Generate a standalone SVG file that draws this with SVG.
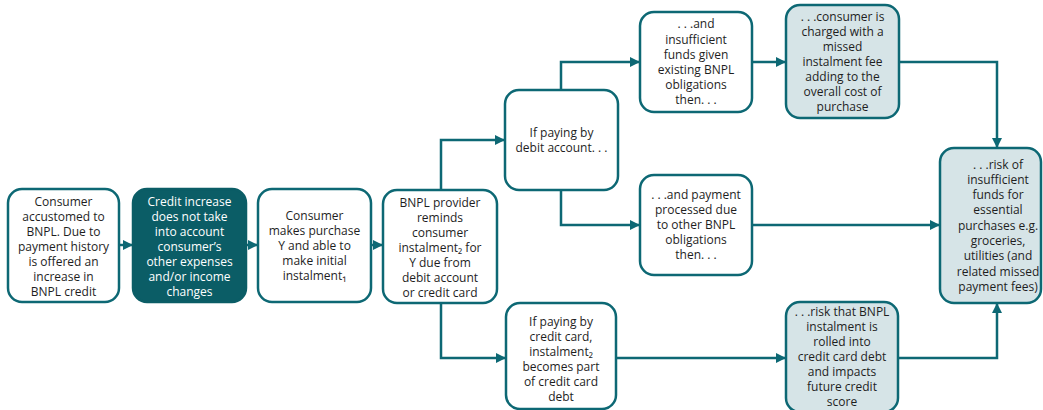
<svg xmlns="http://www.w3.org/2000/svg" width="1043" height="410" viewBox="0 0 1043 410">
  <style>
    .box { fill: #ffffff; stroke: #0d6874; stroke-width: 2.5; }
    .dark { fill: #0b5d66; stroke: #0b5d66; stroke-width: 2.5; }
    .light { fill: #d6e4e7; stroke: #0d6874; stroke-width: 2.5; }
    text { font-family: "Open Sans", "Noto Sans", sans-serif; font-size: 12px; fill: #1e1e1e; text-anchor: middle; }
    .inv { fill: #ffffff; }
    .link { fill: none; stroke: #0d6874; stroke-width: 2.5; }
  </style>
  <defs>
    <marker id="arrow" viewBox="0 0 10 10" refX="9" refY="5" markerWidth="4" markerHeight="4" orient="auto" markerUnits="strokeWidth">
      <path d="M0,0 L10,5 L0,10 z" fill="#0d6874"/>
    </marker>
  </defs>

  <rect width="1043" height="410" fill="#ffffff"/>

  <!-- connectors -->
  <g id="connectors">
    <path class="link" d="M119,245 H132" marker-end="url(#arrow)"/>
    <path class="link" d="M246,245 H257" marker-end="url(#arrow)"/>
    <path class="link" d="M371,245 H382" marker-end="url(#arrow)"/>
    <path class="link" d="M441,190 V140 H504" marker-end="url(#arrow)"/>
    <path class="link" d="M441,303 V358 H505" marker-end="url(#arrow)"/>
    <path class="link" d="M561,90 V62 H639" marker-end="url(#arrow)"/>
    <path class="link" d="M561,190 V225 H639" marker-end="url(#arrow)"/>
    <path class="link" d="M752,62 H785" marker-end="url(#arrow)"/>
    <path class="link" d="M899,62 H997 V147" marker-end="url(#arrow)"/>
    <path class="link" d="M752,225 H939" marker-end="url(#arrow)"/>
    <path class="link" d="M616,358 H785" marker-end="url(#arrow)"/>
    <path class="link" d="M898,358 H997 V304" marker-end="url(#arrow)"/>
  </g>

  <g id="n1">
    <rect class="box" x="8" y="189" width="111" height="113" rx="14"/>
    <text x="63.5" y="206">Consumer</text>
    <text x="63.5" y="221">accustomed to</text>
    <text x="63.5" y="236">BNPL. Due to</text>
    <text x="63.5" y="251">payment history</text>
    <text x="63.5" y="266">is offered an</text>
    <text x="63.5" y="281">increase in</text>
    <text x="63.5" y="296">BNPL credit</text>
  </g>

  <g id="n2">
    <rect class="dark" x="133" y="189" width="113" height="113" rx="14"/>
    <text class="inv" x="189.5" y="206">Credit increase</text>
    <text class="inv" x="189.5" y="221">does not take</text>
    <text class="inv" x="189.5" y="236">into account</text>
    <text class="inv" x="189.5" y="251">consumer’s</text>
    <text class="inv" x="189.5" y="266">other expenses</text>
    <text class="inv" x="189.5" y="281">and/or income</text>
    <text class="inv" x="189.5" y="296">changes</text>
  </g>

  <g id="n3">
    <rect class="box" x="258" y="189" width="113" height="113" rx="14"/>
    <text x="314.5" y="220">Consumer</text>
    <text x="314.5" y="235">makes purchase</text>
    <text x="314.5" y="250">Y and able to</text>
    <text x="314.5" y="265">make initial</text>
    <text x="314.5" y="280">instalment₁</text>
  </g>

  <g id="n4">
    <rect class="box" x="383" y="190" width="114" height="113" rx="14"/>
    <text x="440" y="207">BNPL provider</text>
    <text x="440" y="222">reminds</text>
    <text x="440" y="237">consumer</text>
    <text x="440" y="252">instalment₂ for</text>
    <text x="440" y="267">Y due from</text>
    <text x="440" y="282">debit account</text>
    <text x="440" y="297">or credit card</text>
  </g>

  <g id="n5">
    <rect class="box" x="505" y="90" width="113" height="100" rx="14"/>
    <text x="561.5" y="137">If paying by</text>
    <text x="561.5" y="152">debit account. . .</text>
  </g>

  <g id="n6">
    <rect class="box" x="640" y="12" width="112" height="100" rx="14"/>
    <text x="696" y="28">. . .and</text>
    <text x="696" y="44">insufficient</text>
    <text x="696" y="59">funds given</text>
    <text x="696" y="74">existing BNPL</text>
    <text x="696" y="89">obligations</text>
    <text x="696" y="104">then. . .</text>
  </g>

  <g id="n7">
    <rect class="light" x="786" y="5" width="113" height="113" rx="14"/>
    <text x="842.5" y="21">. . .consumer is</text>
    <text x="842.5" y="36">charged with a</text>
    <text x="842.5" y="51">missed</text>
    <text x="842.5" y="66">instalment fee</text>
    <text x="842.5" y="81">adding to the</text>
    <text x="842.5" y="96">overall cost of</text>
    <text x="842.5" y="111">purchase</text>
  </g>

  <g id="n8">
    <rect class="box" x="640" y="175" width="112" height="100" rx="14"/>
    <text x="696" y="199">. . .and payment</text>
    <text x="696" y="214">processed due</text>
    <text x="696" y="229">to other BNPL</text>
    <text x="696" y="244">obligations</text>
    <text x="696" y="259">then. . .</text>
  </g>

  <g id="n9">
    <rect class="light" x="940" y="148" width="101" height="155" rx="14"/>
    <text x="998" y="169">. . .risk of</text>
    <text x="998" y="184">insufficient</text>
    <text x="998" y="199">funds for</text>
    <text x="998" y="214">essential</text>
    <text x="998" y="230">purchases e.g.</text>
    <text x="998" y="245">groceries,</text>
    <text x="998" y="260">utilities (and</text>
    <text x="998" y="276">related missed</text>
    <text x="998" y="291">payment fees)</text>
  </g>

  <g id="n10">
    <rect class="box" x="506" y="303" width="110" height="106" rx="14"/>
    <text x="561" y="326">If paying by</text>
    <text x="561" y="341">credit card,</text>
    <text x="561" y="356">instalment₂</text>
    <text x="561" y="371">becomes part</text>
    <text x="561" y="386">of credit card</text>
    <text x="561" y="401">debt</text>
  </g>

  <g id="n11">
    <rect class="light" x="786" y="302" width="112" height="110" rx="14"/>
    <text x="842" y="316">. . .risk that BNPL</text>
    <text x="842" y="331">instalment is</text>
    <text x="842" y="346">rolled into</text>
    <text x="842" y="361">credit card debt</text>
    <text x="842" y="376">and impacts</text>
    <text x="842" y="391">future credit</text>
    <text x="842" y="406">score</text>
  </g>
</svg>
